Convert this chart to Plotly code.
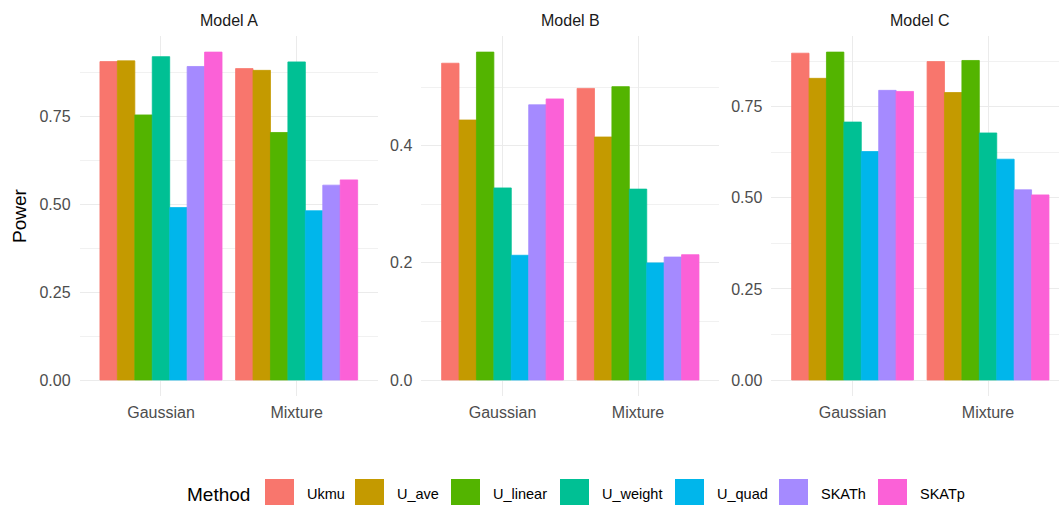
import plotly.graph_objects as go

# ---- data -------------------------------------------------------------
scenarios = ["Gaussian", "Mixture"]
methods = ["Ukmu", "U_ave", "U_linear", "U_weight", "U_quad", "SKATh", "SKATp"]
models = ["Model A", "Model B", "Model C"]

# power per method: [Gaussian, Mixture]
power_a = {
    "Ukmu": [0.907, 0.887], "U_ave": [0.909, 0.882], "U_linear": [0.755, 0.705],
    "U_weight": [0.921, 0.906], "U_quad": [0.491, 0.482], "SKATh": [0.893, 0.555],
    "SKATp": [0.934, 0.570],
}
power_b = {
    "Ukmu": [0.541, 0.498], "U_ave": [0.444, 0.415], "U_linear": [0.560, 0.501],
    "U_weight": [0.328, 0.326], "U_quad": [0.213, 0.200], "SKATh": [0.470, 0.210],
    "SKATp": [0.480, 0.214],
}
power_c = {
    "Ukmu": [0.897, 0.874], "U_ave": [0.828, 0.789], "U_linear": [0.900, 0.877],
    "U_weight": [0.708, 0.678], "U_quad": [0.627, 0.606], "SKATh": [0.795, 0.522],
    "SKATp": [0.792, 0.508],
}
panel_data = [power_a, power_b, power_c]
y_dtick = [0.25, 0.2, 0.25]
y_format = [".2f", ".1f", ".2f"]

# ---- style ------------------------------------------------------------
W, H = 1059, 505
FONT = "Liberation Sans, Arial, sans-serif"
colors = ["#F8766D", "#C49A00", "#53B400", "#00C094", "#00B6EB", "#A58AFF", "#FB61D7"]
GRID = "#EBEBEB"

# panel placement in pixels (left, right) and vertical extent
panel_px = [(79.6, 378.0), (421.3, 719.3), (771.3, 1069.3)]
top_px, bottom_px = 35.7, 396.4


def px_x(x):
    return x / W


def px_y(y):
    return 1 - y / H


fig = go.Figure()

for p, (data, (x0, x1)) in enumerate(zip(panel_data, panel_px)):
    ax = "" if p == 0 else str(p + 1)
    for m, col in zip(methods, colors):
        fig.add_trace(go.Bar(
            x=scenarios, y=data[m], name=m,
            marker=dict(color=col, line=dict(width=0.8, color=col)),
            xaxis="x" + ax, yaxis="y" + ax, showlegend=False,
        ))

    # x range: discrete axis expanded by 0.6 on each side; last panel runs off the canvas
    full_w = x1 - x0
    r_hi = 1.6
    right = x1
    if x1 > W:
        r_hi = -0.6 + 2.2 * (W - x0) / full_w
        right = W
    ymax = max(max(v) for v in data.values())

    fig.layout["xaxis" + ax] = dict(
        domain=[px_x(x0), px_x(right)], range=[-0.6, r_hi], type="category",
        anchor="y" + ax, showgrid=True, gridcolor=GRID, gridwidth=1.3,
        showline=False, zeroline=False, ticks="",
        tickfont=dict(family=FONT, size=16, color="#4D4D4D"), ticklabelstandoff=5,
    )
    fig.layout["yaxis" + ax] = dict(
        domain=[px_y(bottom_px), px_y(top_px)], range=[-0.05 * ymax, 1.05 * ymax],
        anchor="x" + ax, tick0=0, dtick=y_dtick[p], tickformat=y_format[p],
        showgrid=True, gridcolor=GRID, gridwidth=1.3, zeroline=False, showline=False,
        ticks="", ticklabelstandoff=8,
        tickfont=dict(family=FONT, size=16, color="#4D4D4D"),
        minor=dict(dtick=y_dtick[p] / 2, tick0=0, showgrid=True, gridcolor="#F1F1F1",
                   gridwidth=0.8),
    )
    fig.add_annotation(
        text=models[p], x=px_x((x0 + x1) / 2), y=px_y(20), xref="paper", yref="paper",
        showarrow=False, xanchor="center", yanchor="middle",
        font=dict(family=FONT, size=16, color="#1A1A1A"),
    )

# y-axis title
fig.add_annotation(
    text="Power", x=px_x(20), y=px_y(216), xref="paper", yref="paper", textangle=-90,
    showarrow=False, xanchor="center", yanchor="middle",
    font=dict(family=FONT, size=19, color="#000000"),
)

# legend drawn as keys + labels along the bottom
key_left = [265, 355, 451, 560, 675, 779, 878]
key_w, key_top, key_bottom = 29, 479, 508
legend_mid = 494
fig.add_annotation(
    text="Method", x=px_x(185), y=px_y(legend_mid), xref="paper", yref="paper",
    showarrow=False, xanchor="left", yanchor="middle",
    font=dict(family=FONT, size=19, color="#000000"),
)
for m, col, kx in zip(methods, colors, key_left):
    fig.add_shape(
        type="rect", xref="paper", yref="paper",
        x0=px_x(kx), x1=px_x(kx + key_w), y0=px_y(key_bottom), y1=px_y(key_top),
        fillcolor=col, line=dict(width=0),
    )
    fig.add_annotation(
        text=m, x=px_x(kx + key_w + 11), y=px_y(legend_mid), xref="paper", yref="paper",
        showarrow=False, xanchor="left", yanchor="middle",
        font=dict(family=FONT, size=14.5, color="#000000"),
    )

fig.update_layout(
    width=W, height=H, autosize=False,
    margin=dict(l=0, r=0, t=0, b=0),
    paper_bgcolor="white", plot_bgcolor="white",
    barmode="group", bargap=0.1, bargroupgap=0,
    font=dict(family=FONT),
)

fig.write_html("out.html")
